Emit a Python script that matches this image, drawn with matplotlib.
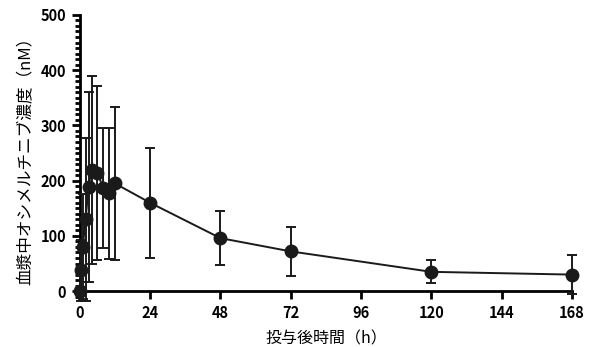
import matplotlib
matplotlib.use("Agg")
import matplotlib.pyplot as plt
from matplotlib.ticker import MultipleLocator

plt.rcParams['font.family'] = ['Noto Sans CJK JP', 'DejaVu Sans']

# time after dose (h), mean plasma conc (nM), SD
hours = [0, 0.5, 1, 2, 3, 4, 6, 8, 10, 12, 24, 48, 72, 120, 168]
conc_mean = [0, 38, 80, 130, 189, 219, 214, 187, 177, 195, 160, 96, 72, 35, 30]
conc_sd = [3, 55, 95, 148, 172, 170, 157, 109, 119, 138, 100, 49, 45, 21, 35]

x_ticks = [0, 24, 48, 72, 96, 120, 144, 168]
y_ticks = [0, 100, 200, 300, 400, 500]

fig = plt.figure(figsize=(5.91, 3.47), dpi=100)
ax = fig.add_axes([0.135, 0.137, 0.833, 0.82])

ax.errorbar(hours, conc_mean, yerr=conc_sd, color='#1a1a1a', marker='o',
            markersize=9, linewidth=1.4, elinewidth=1.4, capsize=3.5,
            capthick=1.4, clip_on=False, zorder=3)

ax.set_xlim(0, 168)
ax.set_ylim(-15, 500)
ax.spines['top'].set_visible(False)
ax.spines['right'].set_visible(False)
ax.spines['bottom'].set_position(('data', 0))
ax.spines['left'].set_linewidth(2)
ax.spines['bottom'].set_linewidth(2)

ax.set_xticks(x_ticks)
ax.set_yticks(y_ticks)
ax.yaxis.set_minor_locator(MultipleLocator(10))
ax.tick_params(axis='both', which='major', direction='out', length=6, width=2,
               labelsize=10.5, pad=4)
ax.tick_params(axis='y', which='minor', direction='out', length=3.5, width=2)
for lab in ax.get_xticklabels() + ax.get_yticklabels():
    lab.set_fontweight('bold')

ax.set_xlabel('投与後時間（h）', fontsize=11.5, labelpad=7)
ax.set_ylabel('血漿中オシメルチニブ濃度（nM）', fontsize=12, labelpad=4)

fig.savefig('out.png', dpi=100, facecolor='white')
